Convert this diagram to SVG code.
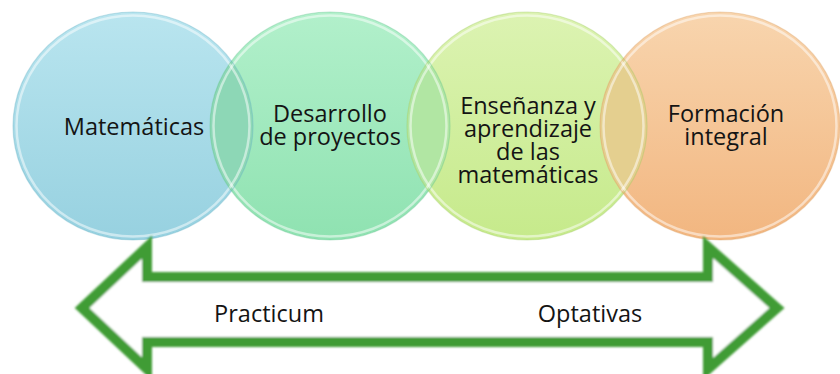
<svg xmlns="http://www.w3.org/2000/svg" width="840" height="374" viewBox="0 0 840 374">
<defs>
<style>
.lbl{font-family:"Open Sans","Noto Sans","Liberation Sans",sans-serif;font-size:23.5px;fill:#141414;text-anchor:middle}
.rim{fill:none;stroke:#ffffff;stroke-opacity:0.5;stroke-width:2.5}
.edge{fill:none;stroke-opacity:0.35;stroke-width:1.2}
.arrow{fill:#ffffff;stroke:#3f9c36;stroke-width:10;stroke-linejoin:miter;filter:url(#soft)}
</style>
<linearGradient id="gBlue" x1="0" y1="0" x2="0" y2="1"><stop offset="0" stop-color="#b9e5ef"/><stop offset="1" stop-color="#97d1e0"/></linearGradient>
<linearGradient id="gGreen" x1="0" y1="0" x2="0" y2="1"><stop offset="0" stop-color="#b2f0cb"/><stop offset="1" stop-color="#8fe2b1"/></linearGradient>
<linearGradient id="gYellow" x1="0" y1="0" x2="0" y2="1"><stop offset="0" stop-color="#dcf3b2"/><stop offset="1" stop-color="#c6ea8b"/></linearGradient>
<linearGradient id="gOrange" x1="0" y1="0" x2="0" y2="1"><stop offset="0" stop-color="#f8d5ae"/><stop offset="1" stop-color="#f2b680"/></linearGradient>
<clipPath id="cBlue"><ellipse cx="133" cy="126" rx="120" ry="114"/></clipPath>
<clipPath id="cGreen"><ellipse cx="330" cy="126" rx="120" ry="114"/></clipPath>
<clipPath id="cYellow"><ellipse cx="527" cy="126" rx="120" ry="114"/></clipPath>
<filter id="soft" x="-5%" y="-10%" width="110%" height="120%"><feGaussianBlur stdDeviation="0.9"/></filter>
</defs>

<g id="node-matematicas">
<ellipse cx="133" cy="126" rx="120" ry="114" fill="url(#gBlue)"/>
</g>
<g id="node-desarrollo">
<ellipse cx="330" cy="126" rx="120" ry="114" fill="url(#gGreen)"/>
<ellipse cx="330" cy="126" rx="120" ry="114" fill="#8dd7b6" clip-path="url(#cBlue)"/>
</g>
<g id="node-ensenanza">
<ellipse cx="527" cy="126" rx="120" ry="114" fill="url(#gYellow)"/>
<ellipse cx="527" cy="126" rx="120" ry="114" fill="#b1e6a3" clip-path="url(#cGreen)"/>
</g>
<g id="node-formacion">
<ellipse cx="720" cy="126" rx="120" ry="114" fill="url(#gOrange)"/>
<ellipse cx="720" cy="126" rx="120" ry="114" fill="#e4cf8f" clip-path="url(#cYellow)"/>
</g>

<g id="rims">
<ellipse class="rim" cx="133" cy="126" rx="116.5" ry="110.5"/>
<ellipse class="rim" cx="330" cy="126" rx="116.5" ry="110.5"/>
<ellipse class="rim" cx="527" cy="126" rx="116.5" ry="110.5"/>
<ellipse class="rim" cx="720" cy="126" rx="116.5" ry="110.5"/>
<ellipse class="edge" cx="133" cy="126" rx="120" ry="114" stroke="#5fb0c4"/>
<ellipse class="edge" cx="330" cy="126" rx="120" ry="114" stroke="#5cc08a"/>
<ellipse class="edge" cx="527" cy="126" rx="120" ry="114" stroke="#9cc85a"/>
<ellipse class="edge" cx="720" cy="126" rx="120" ry="114" stroke="#d99a5a"/>
</g>

<g id="labels">
<text class="lbl" x="134" y="135">Matemáticas</text>
<text class="lbl" x="330" y="122">Desarrollo</text>
<text class="lbl" x="330" y="145">de proyectos</text>
<text class="lbl" x="528" y="114">Enseñanza y</text>
<text class="lbl" x="528" y="137">aprendizaje</text>
<text class="lbl" x="528" y="160">de las</text>
<text class="lbl" x="528" y="183">matemáticas</text>
<text class="lbl" x="726" y="122">Formación</text>
<text class="lbl" x="726" y="145">integral</text>
</g>

<g id="connectors">
<polygon class="arrow" points="82,308 147,247 147,277 708,277 708,247 777,308 708,369 708,342 147,342 147,369"/>
<text class="lbl" x="269" y="322">Practicum</text>
<text class="lbl" x="590" y="322">Optativas</text>
</g>
</svg>
